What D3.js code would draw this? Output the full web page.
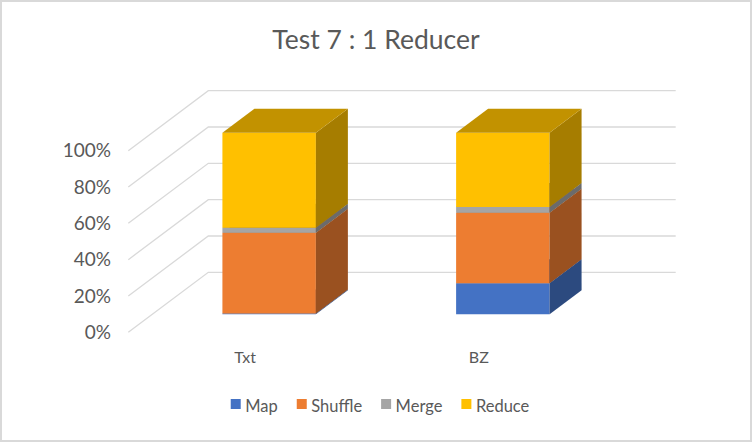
<!DOCTYPE html>
<html>
<head>
<meta charset="utf-8">
<script src="https://cdn.jsdelivr.net/npm/d3@7"></script>
<style>
  html, body { margin: 0; padding: 0; background: #fff; }
  svg { display: block; font-family: Lato, "Open Sans", sans-serif; }
</style>
</head>
<body>
<svg id="chart" width="752" height="442"></svg>
<script>
const title = "Test 7 : 1 Reducer";
const categories = ["Txt", "BZ"];
const seriesNames = ["Map", "Shuffle", "Merge", "Reduce"];
const mapValues = [0.5, 17.1];
const shuffleValues = [44.4, 38.8];
const mergeValues = [2.8, 3.2];
const reduceValues = [52.3, 40.9];
const yTickValues = [0, 0.2, 0.4, 0.6, 0.8, 1.0];
const seriesColors = ["#4472C4", "#ED7D31", "#A5A5A5", "#FFC000"];

const rows = categories.map((c, i) => ({
  cat: c,
  Map: mapValues[i], Shuffle: shuffleValues[i], Merge: mergeValues[i], Reduce: reduceValues[i]
}));

const svg = d3.select("#chart");
const W = 752, H = 442;

// border
svg.append("rect").attr("x", 1).attr("y", 1).attr("width", W - 2).attr("height", H - 2)
  .attr("fill", "#fff").attr("stroke", "#d9d9d9").attr("stroke-width", 2);

// title
svg.append("text").attr("x", 376).attr("y", 49).attr("text-anchor", "middle")
  .attr("font-size", 26.5).attr("fill", "#595959").text(title);

// 3D geometry (oblique projection)
const backLeft = 208.3, backRight = 675.7;
const depthX = -80, depthY = 60; // vector from back wall to front
const y = d3.scaleLinear().domain([0, 1]).range([272.3, 90.7]);
const x = d3.scaleBand().domain(categories).range([backLeft, backRight])
  .paddingInner(0.6).paddingOuter(0.3);
const proj = (xb, yb, d) => [xb + d * depthX, yb + d * depthY];
const dFront = 0.7, dBack = 0.3;

// gridlines: back wall + left wall
const grid = svg.append("g").attr("stroke", "#d9d9d9").attr("stroke-width", 1.3).attr("fill", "none");
yTickValues.forEach(t => {
  const p0 = proj(backLeft, y(t), 1), p1 = proj(backLeft, y(t), 0), p2 = [backRight, y(t)];
  grid.append("polyline").attr("points", [p0, p1, p2].map(p => p.join(",")).join(" "));
});

// y tick labels
const fmt = d3.format(".0%");
svg.append("g").selectAll("text").data(yTickValues).join("text")
  .attr("x", 111).attr("y", t => proj(backLeft, y(t), 1)[1])
  .attr("dy", "0.35em").attr("text-anchor", "end")
  .attr("font-size", 19).attr("fill", "#595959").text(t => fmt(t));

// stacked bars
const stack = d3.stack().keys(seriesNames).offset(d3.stackOffsetExpand);
const stacked = stack(rows);
const shade = (c, k) => { const r = d3.rgb(c); return d3.rgb(r.r * k, r.g * k, r.b * k).formatHex(); };
const toPts = arr => arr.map(p => p.join(",")).join(" ");

const barsG = svg.append("g");
categories.forEach((cat, ci) => {
  const x0 = x(cat), x1 = x0 + x.bandwidth();
  stacked.forEach((s, si) => {
    const [v0, v1] = s[ci];
    const yb = y(v0), yt = y(v1);
    const col = seriesColors[si];
    // front
    barsG.append("polygon").attr("fill", col)
      .attr("points", toPts([proj(x0, yt, dFront), proj(x1, yt, dFront), proj(x1, yb, dFront), proj(x0, yb, dFront)]));
    // side
    barsG.append("polygon").attr("fill", shade(col, 0.65))
      .attr("points", toPts([proj(x1, yt, dFront), proj(x1, yt, dBack), proj(x1, yb, dBack), proj(x1, yb, dFront)]));
    // top
    barsG.append("polygon").attr("fill", shade(col, 0.76))
      .attr("points", toPts([proj(x0, yt, dFront), proj(x1, yt, dFront), proj(x1, yt, dBack), proj(x0, yt, dBack)]));
  });
});

// category labels
svg.append("g").selectAll("text").data(categories).join("text")
  .attr("x", c => proj(x(c) + x.bandwidth() / 2, y(0), 1)[0])
  .attr("y", 363).attr("text-anchor", "middle")
  .attr("font-size", 16).attr("fill", "#595959").text(c => c);

// legend
const legend = svg.append("g");
let lx = 0;
seriesNames.forEach((n, i) => {
  const g = legend.append("g").attr("transform", `translate(${lx},0)`);
  g.append("rect").attr("x", 0).attr("y", 399).attr("width", 10).attr("height", 10).attr("fill", seriesColors[i]);
  const t = g.append("text").attr("x", 14.5).attr("y", 412).attr("font-size", 16.5).attr("fill", "#595959").text(n);
  const w = t.node().getComputedTextLength();
  lx += 14.5 + w + 19;
});
const totalW = lx - 19;
legend.attr("transform", `translate(${380 - totalW / 2},0)`);
</script>
</body>
</html>
